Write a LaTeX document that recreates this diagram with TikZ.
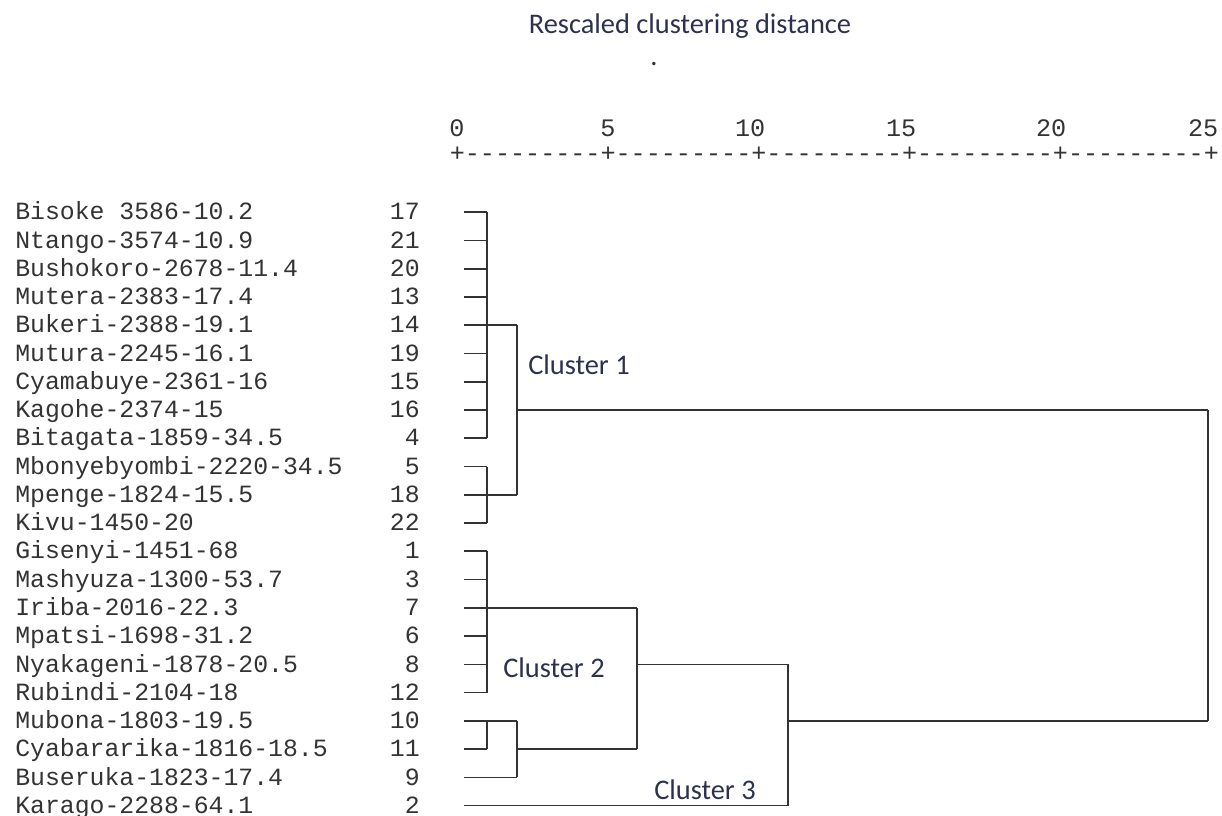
\documentclass[tikz,border=0pt]{standalone}
\usepackage{fontspec}
\setmainfont{Carlito}
\newfontfamily\monof[Ligatures=TeXOff]{Liberation Mono}
\definecolor{ink}{HTML}{333333}
\definecolor{navy}{HTML}{2C3150}
\begin{document}
\begin{tikzpicture}[x=0.75pt,y=-0.75pt,
  lab/.style={font=\monof\fontsize{18.6}{20}\selectfont, text=ink, inner sep=0, anchor=base west},
  num/.style={font=\monof\fontsize{18.6}{20}\selectfont, text=ink, inner sep=0, anchor=base east},
  ticklab/.style={font=\monof\fontsize{18.85}{20}\selectfont, text=ink, inner sep=0},
  link/.style={draw=ink, line width=1.2pt},
  clus/.style={font=\fontsize{21.3}{24}\selectfont, text=navy, inner sep=0, anchor=west}]
\useasboundingbox (0,0) rectangle (1222,816);
% title
\node[font=\fontsize{21.3}{24}\selectfont, text=navy, inner sep=0, anchor=base] (title) at (690,34) {Rescaled clustering distance};
\node[font=\fontsize{21.3}{24}\selectfont, text=ink, inner sep=0, anchor=base] (dot) at (654,66) {.};
% axis
\node[ticklab, anchor=base] (t0) at (457,137) {0};
\node[ticklab, anchor=base] (t5) at (608,137) {5};
\node[ticklab, anchor=base east] (t10) at (765.5,137) {10};
\node[ticklab, anchor=base east] (t15) at (916.5,137) {15};
\node[ticklab, anchor=base east] (t20) at (1066.5,137) {20};
\node[ticklab, anchor=base east] (t25) at (1218.5,137) {25};
\node[ticklab, anchor=base west] (axis) at (449.5,162) {+---------+---------+---------+---------+---------+};
% leaves
\foreach \lbl/\nm [count=\i] in {Bisoke 3586-10.2/17, Ntango-3574-10.9/21, Bushokoro-2678-11.4/20,
  Mutera-2383-17.4/13, Bukeri-2388-19.1/14, Mutura-2245-16.1/19, Cyamabuye-2361-16/15,
  Kagohe-2374-15/16, Bitagata-1859-34.5/4, Mbonyebyombi-2220-34.5/5, Mpenge-1824-15.5/18,
  Kivu-1450-20/22, Gisenyi-1451-68/1, Mashyuza-1300-53.7/3, Iriba-2016-22.3/7,
  Mpatsi-1698-31.2/6, Nyakageni-1878-20.5/8, Rubindi-2104-18/12, Mubona-1803-19.5/10,
  Cyabararika-1816-18.5/11, Buseruka-1823-17.4/9, Karago-2288-64.1/2}{
  \pgfmathsetmacro\yy{212.3+(\i-1)*28.25}
  \node[lab] (L\i) at (15,\yy+7.7) {\lbl};
  \node[num] (N\i) at (420,\yy+7.7) {\nm};
  \coordinate (a\i) at (464,\yy);
  \coordinate (b\i) at (487,\yy);
  \coordinate (c\i) at (517,\yy);
  \coordinate (d\i) at (637,\yy);
  \coordinate (e\i) at (788,\yy);
  \coordinate (f\i) at (1208,\yy);
}
% leaf stubs
\foreach \i in {1,...,18,20} { \draw[link] (a\i) -- (b\i); }
\draw[link] (a19) -- (c19);
\draw[link] (a21) -- (c21);
\draw[link] (a22) -- (e22);
% cluster 1
\draw[link] (b1) -- (b9);
\draw[link] (b10) -- (b12);
\draw[link] (b5) -- (c5);
\draw[link] (b11) -- (c11);
\draw[link] (c5) -- (c11);
\draw[link] (c8) -- (f8);
% cluster 2
\draw[link] (b13) -- (b18);
\draw[link] (b15) -- (d15);
\draw[link] (b19) -- (b20);
\draw[link] (c19) -- (c21);
\draw[link] (c20) -- (d20);
\draw[link] (d15) -- (d20);
% cluster 2 + 3
\draw[link] (d17) -- (e17);
\draw[link] (e17) -- (e22);
\draw[link] (e19) -- (f19);
\draw[link] (f8) -- (f19);
% cluster labels
\node[clus] (cl1) at (528,365) {Cluster 1};
\node[clus] (cl2) at (503,668) {Cluster 2};
\node[clus] (cl3) at (654,790) {Cluster 3};
\end{tikzpicture}
\end{document}
